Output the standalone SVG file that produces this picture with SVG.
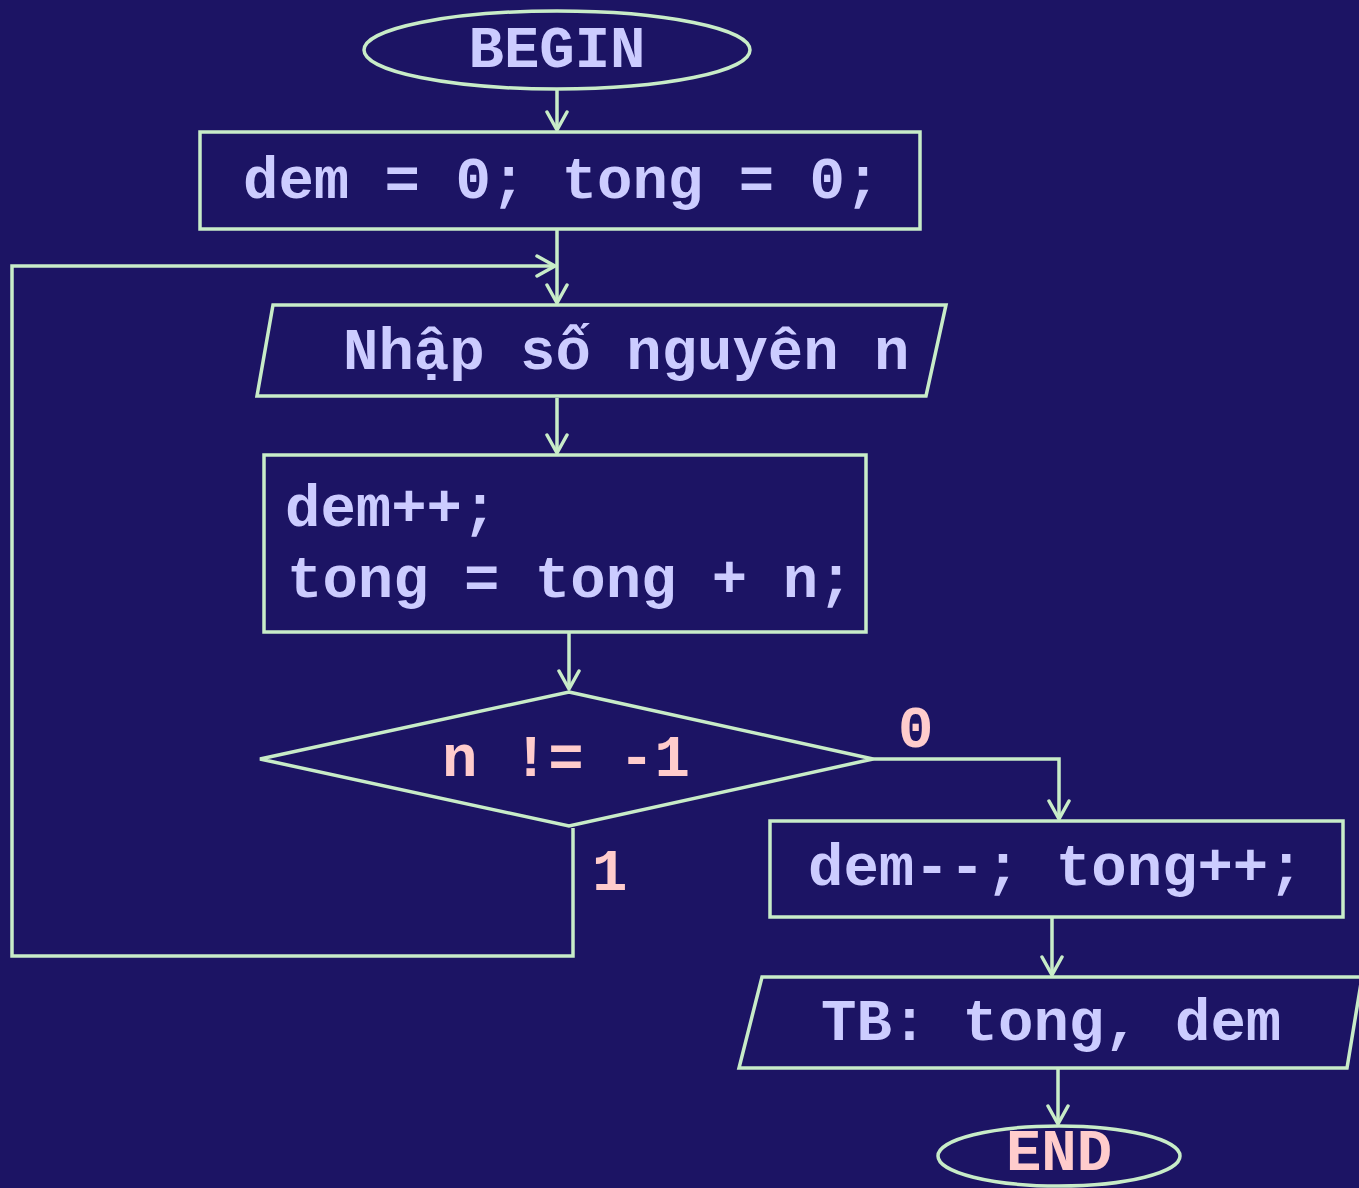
<svg xmlns="http://www.w3.org/2000/svg" width="1359" height="1188" viewBox="0 0 1359 1188">
<defs>
<marker id="arr" viewBox="0 0 24 24" refX="21" refY="12" markerWidth="24" markerHeight="24" markerUnits="userSpaceOnUse" orient="auto">
<polyline points="3,2 21,12 3,22" fill="none" stroke="#c8ecc8" stroke-width="3.5" stroke-linecap="round" stroke-linejoin="round"/>
</marker>
<style>
.sh{fill:#1c1464;stroke:#c8ecc8;stroke-width:3.5}
.ln{fill:none;stroke:#c8ecc8;stroke-width:3.5}
.t{font-family:"Liberation Mono","Courier New",monospace;font-weight:bold;font-size:59px;fill:#ccccff}
.p{fill:#ffcccc}
</style>
</defs>
<rect width="1359" height="1188" fill="#1c1464"/>
<g id="connectors">
<line class="ln" x1="557" y1="90" x2="557" y2="130" marker-end="url(#arr)"/>
<line class="ln" x1="557" y1="229" x2="557" y2="303" marker-end="url(#arr)"/>
<polyline class="ln" points="573,828 573,956 12,956 12,266 555,266" marker-end="url(#arr)"/>
<line class="ln" x1="557" y1="398" x2="557" y2="453" marker-end="url(#arr)"/>
<line class="ln" x1="569" y1="633" x2="569" y2="689" marker-end="url(#arr)"/>
<polyline class="ln" points="873,759 1059,759 1059,819" marker-end="url(#arr)"/>
<line class="ln" x1="1052" y1="918" x2="1052" y2="975" marker-end="url(#arr)"/>
<line class="ln" x1="1058" y1="1069" x2="1058" y2="1124" marker-end="url(#arr)"/>
<text class="t p" x="898" y="747">0</text>
<text class="t p" x="592" y="890">1</text>
</g>
<g id="begin">
<ellipse class="sh" cx="557" cy="50" rx="193" ry="39"/>
<text class="t" x="557" y="67" text-anchor="middle">BEGIN</text>
</g>
<g id="init">
<rect class="sh" x="200" y="132" width="720" height="97"/>
<text class="t" x="243" y="198">dem = 0; tong = 0;</text>
</g>
<g id="input">
<polygon class="sh" points="273,305 946,305 926,396 257,396"/>
<text class="t" x="343" y="369">Nhập số nguyên n</text>
</g>
<g id="update">
<rect class="sh" x="264" y="455" width="602" height="177"/>
<text class="t" x="285" y="526">dem++;</text>
<text class="t" x="287" y="597">tong = tong + n;</text>
</g>
<g id="cond">
<polygon class="sh" points="569,692 873,759 569,826 260,759"/>
<text class="t p" x="566" y="776" text-anchor="middle">n != -1</text>
</g>
<g id="adjust">
<rect class="sh" x="770" y="821" width="573" height="96"/>
<text class="t" x="808" y="885">dem--; tong++;</text>
</g>
<g id="output">
<polygon class="sh" points="762,977 1362,977 1347,1068 739,1068"/>
<text class="t" x="821" y="1040">TB: tong, dem</text>
</g>
<g id="end">
<ellipse class="sh" cx="1059" cy="1156" rx="121" ry="30"/>
<text class="t p" x="1059" y="1170" text-anchor="middle">END</text>
</g>
</svg>
